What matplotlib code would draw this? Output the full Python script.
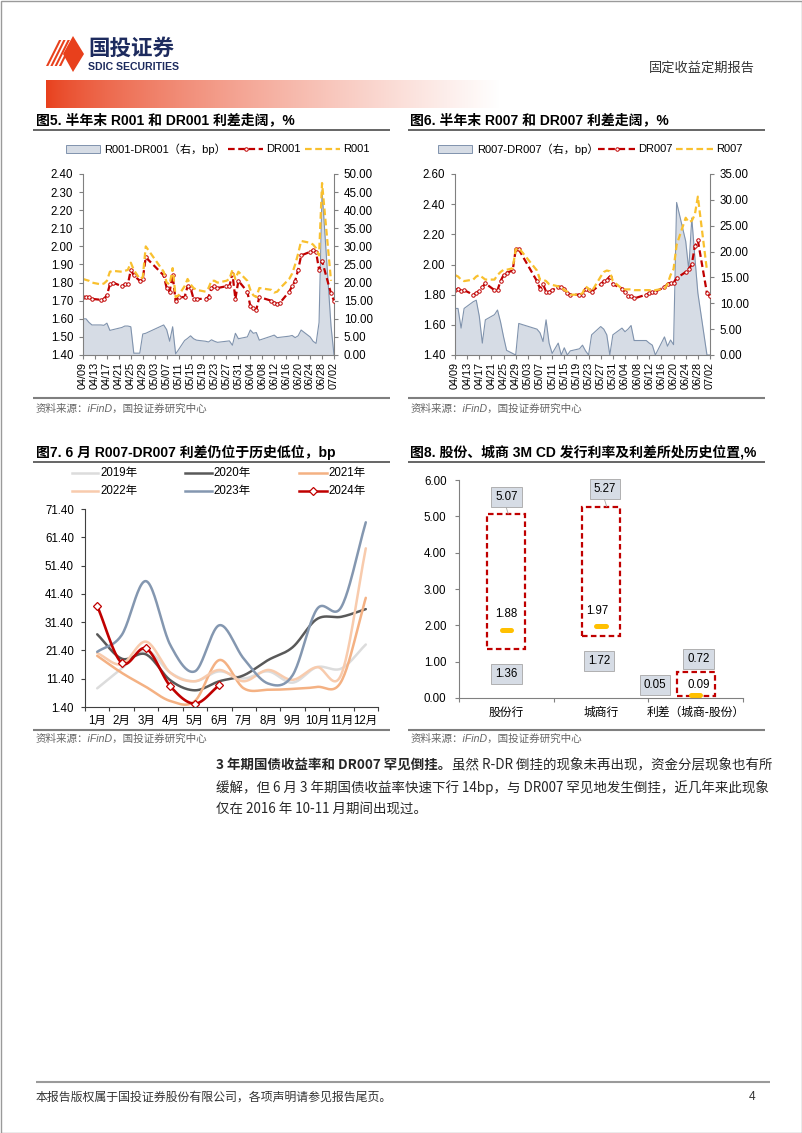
import numpy as np
import pandas as pd
import matplotlib
matplotlib.use("Agg")
import matplotlib.pyplot as plt
from matplotlib.patches import Rectangle, Polygon
from matplotlib.ticker import FormatStrFormatter

W, H = 802, 1133
FONTS = ["Liberation Sans", "Noto Sans CJK SC"]
CJK = ["Noto Sans CJK SC", "Liberation Sans"]
plt.rcParams.update({
    "font.family": FONTS,
    "font.size": 8,
    "axes.unicode_minus": False,
})

# ---------------- 图5 / 图6：交易日数据 ----------------
DATES = [
    "04/09", "04/10", "04/11", "04/12", "04/15", "04/16", "04/17", "04/18", "04/19",
    "04/22", "04/23", "04/24", "04/25", "04/26", "04/28", "04/29", "04/30",
    "05/06", "05/07", "05/08", "05/09", "05/10", "05/11", "05/13", "05/14", "05/15",
    "05/16", "05/17", "05/20", "05/21", "05/22", "05/23", "05/24", "05/27", "05/28",
    "05/29", "05/30", "05/31",
    "06/03", "06/04", "06/05", "06/06", "06/07", "06/11", "06/12", "06/13", "06/14",
    "06/17", "06/18", "06/19", "06/20", "06/21", "06/24", "06/25", "06/26", "06/27",
    "06/28",
    "07/01", "07/02",
]
XTICK_LABELS = ["04/09", "04/13", "04/17", "04/21", "04/25", "04/29", "05/03", "05/07",
                "05/11", "05/15", "05/19", "05/23", "05/27", "05/31", "06/04", "06/08",
                "06/12", "06/16", "06/20", "06/24", "06/28", "07/02"]

R001 = [1.82, 1.815, 1.81, 1.80, 1.79, 1.795, 1.81, 1.86, 1.865, 1.86, 1.865, 1.87, 1.91,
        1.87, 1.82, 1.83, 2.00,
        1.86, 1.80, 1.79, 1.88, 1.72, 1.73, 1.78, 1.82, 1.79, 1.77, 1.76, 1.75, 1.77, 1.81,
        1.81, 1.80, 1.81, 1.82, 1.87, 1.82, 1.86,
        1.81, 1.76, 1.73, 1.72, 1.77, 1.76, 1.745, 1.75, 1.77, 1.82, 1.85, 1.90, 1.96, 2.03,
        2.02, 2.01, 1.99, 1.95, 2.35,
        1.81, np.nan]
DR001 = [1.72, 1.72, 1.72, 1.71, 1.705, 1.71, 1.73, 1.79, 1.80, 1.78, 1.79, 1.79, 1.87,
         1.84, 1.81, 1.82, 1.94,
         1.84, 1.77, 1.75, 1.84, 1.70, 1.72, 1.72, 1.78, 1.77, 1.71, 1.71, 1.71, 1.72, 1.77,
         1.78, 1.77, 1.78, 1.78, 1.85, 1.71, 1.81,
         1.75, 1.67, 1.66, 1.65, 1.72, 1.70, 1.69, 1.68, 1.69, 1.75, 1.78, 1.81, 1.87, 1.95,
         1.97, 1.98, 1.97, 1.87, 1.92,
         1.74, 1.70]
SPREAD_1D = [10.0, 10.0, 9.0, 8.3, 8.3, 8.2, 8.8, 6.8, 7.0, 7.6, 8.0, 8.0, 7.8, 0.5, 0.5,
             5.8, 6.0,
             8.3, 7.0, 3.8, 7.8, 0.3, 1.5, 4.0, 4.6, 5.3, 4.5, 4.1, 3.8, 3.6, 4.2, 3.8, 3.5,
             3.8, 3.9, 2.7, 6.0, 4.5,
             5.0, 6.9, 6.0, 6.2, 4.1, 5.2, 5.5, 4.8, 4.9, 5.2, 5.4, 4.8, 5.3, 6.9, 5.0, 3.8,
             3.2, 9.0, 45.5,
             8.0, 0.0]

R007 = [1.93, 1.92, 1.90, 1.89, 1.90, 1.92, 1.93, 1.915, 1.90, 1.90, 1.93, 1.95, 1.965,
        1.965, 1.975, 2.10, 2.11,
        1.96, 1.90, 1.90, 1.89, 1.87, 1.865, 1.855, 1.85, 1.83, 1.82, 1.80, 1.80, 1.81, 1.855,
        1.84, 1.82, 1.92, 1.95, 1.96, 1.955, 1.89,
        1.84, 1.835, 1.835, 1.835, 1.83, 1.83, 1.83, 1.825, 1.83, 1.84, 1.87, 1.93, 1.97,
        2.13, 2.31, 2.28, 2.29, 2.33, 2.45,
        1.96, np.nan]
DR007 = [1.83, 1.84, 1.825, 1.83, 1.80, 1.81, 1.825, 1.85, 1.875, 1.83, 1.83, 1.89, 1.93,
         1.945, 1.96, 2.10, 2.10,
         1.89, 1.84, 1.87, 1.82, 1.82, 1.83, 1.85, 1.85, 1.84, 1.81, 1.80, 1.80, 1.80, 1.84,
         1.83, 1.82, 1.87, 1.89, 1.90, 1.92, 1.87,
         1.84, 1.82, 1.79, 1.79, 1.775, 1.80, 1.81, 1.815, 1.82, 1.85, 1.87, 1.88, 1.88,
         1.91, 1.95, 1.97, 2.00, 2.12, 2.16,
         1.81, 1.79]
SPREAD_7D = [9.0, 9.0, 5.2, 9.0, 10.3, 10.6, 7.5, 2.3, 6.8, 7.8, 8.7, 6.4, 3.5, 0.9, 0.3,
             0.0, 6.1,
             5.0, 4.3, 2.6, 6.8, 2.3, 0.3, 2.3, 0.0, 1.4, 0.0, 0.8, 1.2, 1.9, 0.8, 0.0, 3.9,
             5.5, 5.0, 3.9, 0.0, 3.9,
             5.2, 4.5, 5.0, 5.7, 2.8, 2.8, 2.3, 1.9, 0.0, 3.5, 1.7, 2.9, 2.0, 29.5, 22.0,
             16.5, 26.5, 19.0, 12.0,
             0.0, 0.0]

# ---------------- 图7：R007-DR007 月度利差（bp） ----------------
MONTHS = ["1月", "2月", "3月", "4月", "5月", "6月", "7月", "8月", "9月", "10月", "11月", "12月"]
YEARS = ["2019年", "2020年", "2021年", "2022年", "2023年", "2024年"]
Y2019 = [8.0, 15.0, 21.5, 13.5, 10.5, 14.0, 11.5, 14.0, 10.0, 15.5, 15.0, 23.5]
Y2020 = [27.1, 18.5, 20.0, 10.8, 7.3, 10.5, 12.6, 18.0, 22.5, 32.5, 33.3, 36.0]
Y2021 = [19.5, 13.5, 8.5, 3.5, 3.5, 18.0, 8.0, 7.5, 7.8, 8.5, 10.5, 40.0]
Y2022 = [20.5, 16.5, 24.5, 13.5, 10.5, 14.5, 10.5, 14.5, 11.0, 15.5, 13.0, 57.5]
Y2023 = [20.9, 26.8, 45.9, 23.2, 14.0, 30.3, 18.5, 9.7, 12.6, 36.0, 36.8, 66.7]
Y2024 = [37.1, 17.0, 22.1, 8.7, 2.6, 9.1]

# ---------------- 图8：3M CD 历史区间 ----------------
CD_CATS = ["股份行", "城商行", "利差（城商-股份）"]
CD_HIGH = [5.07, 5.27, 0.72]
CD_LOW = [1.36, 1.72, 0.05]
CD_NOW = [1.88, 1.97, 0.09]

RED = "#c00000"
GOLD = "#f9c02e"
AREA_FC = "#d6dce5"
AREA_EC = "#8093ad"
AXC = "#808080"


def day_offsets(labels):
    d = pd.to_datetime(["2024/" + s for s in labels], format="%Y/%m/%d")
    return (d - pd.Timestamp("2024-04-09")).days.to_numpy()


def smooth(xs, ys, n=24):
    """Catmull-Rom, parecido al suavizado de Excel."""
    p = np.column_stack([xs, ys]).astype(float)
    m = len(p)
    tang = np.zeros_like(p)
    tang[1:-1] = (p[2:] - p[:-2]) / 2
    tang[0] = p[1] - p[0]
    tang[-1] = p[-1] - p[-2]
    t = np.linspace(0, 1, n)[:, None]
    h00, h10 = 2 * t**3 - 3 * t**2 + 1, t**3 - 2 * t**2 + t
    h01, h11 = -2 * t**3 + 3 * t**2, t**3 - t**2
    segs = [h00 * p[i] + h10 * tang[i] + h01 * p[i + 1] + h11 * tang[i + 1]
            for i in range(m - 1)]
    out = np.vstack(segs)
    return out[:, 0], out[:, 1]


fig = plt.figure(figsize=(W / 100, H / 100), dpi=100)
pg = fig.add_axes([0, 0, 1, 1])
pg.axis("off")


def box(x0, y0, x1, y1):
    return fig.add_axes([x0 / W, 1 - y1 / H, (x1 - x0) / W, (y1 - y0) / H])


def hline(x0, x1, y, color="#595959", lw=1.3):
    pg.plot([x0, x1], [y, y], color=color, lw=lw, solid_capstyle="butt")


def style_axis(ax, spines):
    for s in ["top", "right", "left", "bottom"]:
        ax.spines[s].set_visible(s in spines)
        ax.spines[s].set_color(AXC)
        ax.spines[s].set_linewidth(0.8)
    ax.tick_params(direction="out", length=3, width=0.8, color=AXC,
                   labelsize=8.3, pad=2)


# ---------------- cabecera ----------------
pg.add_patch(Rectangle((0.5, 0.5), W - 1, H - 1, fill=False, ec="#9a9a9a", lw=1))
pg.add_patch(Polygon([(63, 54), (73, 36), (84, 54), (73, 72)], fc="#e8401c", ec="none"))
for k in range(4):
    x = 46 + k * 4.3
    pg.add_patch(Polygon([(x, 66), (x + 2.3, 66), (x + 2.3 + 13, 40), (x + 13, 40)],
                         fc="#e8401c", ec="none"))
pg.text(88, 48, "国投证券", fontsize=15.5, weight="bold", color="#1d2b5e",
        va="center", family=CJK)
pg.text(88, 67.5, "SDIC SECURITIES", fontsize=7.6, weight="bold", color="#1d2b5e",
        va="center", family=["Liberation Sans Narrow", "Liberation Sans"])
pg.text(755, 68, "固定收益定期报告", fontsize=9.5, ha="right", va="center", family=CJK,
        color="#333333")
t = np.linspace(0, 1, 300) ** 0.75
grad = np.ones((1, 300, 4))
grad[0, :, :3] = np.array([0.91, 0.25, 0.11]) * (1 - t[:, None]) + t[:, None]
pg.imshow(grad, extent=[46, 500, 108, 80], aspect="auto")
pg.set_xlim(0, W)
pg.set_ylim(H, 0)


# ---------------- 图5 / 图6 ----------------
def rate_chart(x0, x1, r, dr, sp, lo, hi, step, rhi):
    days = day_offsets(DATES)
    ax = box(x0, 174, x1, 355)
    ax2 = ax.twinx()
    ax.set_zorder(ax2.get_zorder() + 1)
    ax.patch.set_visible(False)
    ax2.fill_between(days, 0, sp, color=AREA_FC, lw=0)
    ax2.plot(days, sp, color=AREA_EC, lw=0.8)
    ax.plot(days, dr, color=RED, lw=1.6, ls=(0, (3, 1.6)), marker="o", ms=2.5,
            mfc="white", mec=RED, mew=0.7)
    ax.plot(days, r, color=GOLD, lw=1.6, ls=(0, (3, 1.6)))
    ax.set_xlim(0, 84)
    ax.set_ylim(lo, hi)
    ax.set_yticks(np.arange(lo, hi + 1e-9, step))
    ax.yaxis.set_major_formatter(FormatStrFormatter("%.2f"))
    ax.set_xticks(day_offsets(XTICK_LABELS))
    ax.set_xticklabels(XTICK_LABELS, rotation=90, fontsize=7.8)
    ax2.set_ylim(0, rhi)
    ax2.set_yticks(np.arange(0, rhi + 0.1, 5))
    ax2.yaxis.set_major_formatter(FormatStrFormatter("%.2f"))
    style_axis(ax, ["left", "bottom"])
    style_axis(ax2, ["right"])
    ax.tick_params(axis="y", pad=4)
    ax2.tick_params(axis="y", pad=4)
    ax.tick_params(axis="x", labelsize=7.8)
    return ax


rate_chart(83, 334, R001, DR001, SPREAD_1D, 1.40, 2.40, 0.10, 50)
rate_chart(455, 710, R007, DR007, SPREAD_7D, 1.40, 2.60, 0.20, 35)

pg.text(36, 120, "图5. 半年末 R001 和 DR001 利差走阔，%", fontsize=10, weight="bold", va="center")
pg.text(410, 120, "图6. 半年末 R007 和 DR007 利差走阔，%", fontsize=10, weight="bold", va="center")
hline(33, 390, 130)
hline(408, 765, 130)


def rate_legend(xp, xt1, xl1, xt2, xl2, xt3, names):
    pg.add_patch(Rectangle((xp, 145), 34, 8, fc=AREA_FC, ec=AREA_EC, lw=0.7))
    pg.text(xt1, 149, names[0], fontsize=8, va="center")
    pg.plot(xl1, [149, 149], color=RED, lw=1.6, ls=(0, (3, 1.6)))
    pg.plot([sum(xl1) / 2], [149], "o", ms=2.5, mfc="white", mec=RED, mew=0.7)
    pg.text(xt2, 149, names[1], fontsize=8, va="center")
    pg.plot(xl2, [149, 149], color=GOLD, lw=1.6, ls=(0, (3, 1.6)))
    pg.text(xt3, 149, names[2], fontsize=8, va="center")


rate_legend(66, 104, [228, 263], 266, [305, 340], 343,
            ["R001-DR001（右，bp）", "DR001", "R001"])
rate_legend(438, 477, [598, 635], 638, [676, 713], 716,
            ["R007-DR007（右，bp）", "DR007", "R007"])

SRC = "资料来源：iFinD，国投证券研究中心"
for xa, xb in [(33, 390), (408, 765)]:
    hline(xa, xb, 398, color="#7f7f7f", lw=1.5)
    hline(xa, xb, 730, color="#7f7f7f", lw=1.5)
    pg.text(xa + 3, 409, SRC, fontsize=7.6, color="#666666", va="center", style="italic")
    pg.text(xa + 3, 739, SRC, fontsize=7.6, color="#666666", va="center", style="italic")

# ---------------- 图7 ----------------
pg.text(36, 452, "图7. 6 月 R007-DR007 利差仍位于历史低位，bp", fontsize=10, weight="bold",
        va="center")
hline(33, 390, 462)
ax7 = box(85, 509, 378, 707)
series7 = [Y2019, Y2020, Y2021, Y2022, Y2023, Y2024]
colors7 = ["#dcdcdc", "#595959", "#f4b183", "#f8cbad", "#8497b0", RED]
xc = np.arange(12) + 0.5
for vals, col in zip(series7, colors7):
    sx, sy = smooth(xc[:len(vals)], vals)
    ax7.plot(sx, sy, color=col, lw=1.8 if col != RED else 1.9, solid_capstyle="round")
ax7.plot(xc[:len(Y2024)], Y2024, ls="none", marker="D", ms=4.2, mfc="white", mec=RED,
         mew=0.9)
ax7.set_xlim(0, 12)
ax7.set_ylim(1.4, 71.4)
ax7.set_yticks(np.arange(1.4, 71.41, 10))
ax7.yaxis.set_major_formatter(FormatStrFormatter("%.2f"))
ax7.set_xticks(np.arange(13))
ax7.set_xticklabels([])
ax7.set_xticks(xc, minor=True)
ax7.set_xticklabels(MONTHS, minor=True)
style_axis(ax7, ["left", "bottom"])
for s in ["left", "bottom"]:
    ax7.spines[s].set_color("#404040")
ax7.tick_params(color="#404040")
ax7.tick_params(axis="x", which="minor", length=0, pad=6, labelsize=8.3)
ax7.tick_params(axis="y", pad=5)

leg_x = [(72, 98, 100), (185, 212, 213), (299, 327, 328)]
for k, (name, col) in enumerate(zip(YEARS, colors7)):
    xa, xb, xt = leg_x[k % 3]
    yy = 473 if k < 3 else 491
    pg.plot([xa, xb], [yy, yy], color=col, lw=1.8)
    if col == RED:
        pg.plot([(xa + xb) / 2], [yy], "D", ms=4.2, mfc="white", mec=RED, mew=0.9)
    pg.text(xt, yy, name, fontsize=8.3, va="center")

# ---------------- 图8 ----------------
pg.text(410, 452, "图8. 股份、城商 3M CD 发行利率及利差所处历史位置,%", fontsize=10,
        weight="bold", va="center")
hline(408, 765, 462)
ax8 = box(459, 480, 743, 698)
lab = dict(fontsize=8.3, ha="center", va="center",
           bbox=dict(boxstyle="square,pad=0.35", fc=AREA_FC, ec="#a6a6a6", lw=0.6))
hi_pos = [(0.0, 0.47), (0.04, 0.47), (0.03, 0.36)]
lo_pos = [(0.0, -0.69), (-0.02, -0.71), (-0.43, 0.32)]
now_pos = [(0.0, 0.42), (-0.04, 0.42), (0.03, 0.28)]
for i, (hv, lv, nv) in enumerate(zip(CD_HIGH, CD_LOW, CD_NOW)):
    c = i + 0.5
    ax8.add_patch(Rectangle((c - 0.2, lv), 0.4, hv - lv, fill=False, ec=RED, lw=1.6,
                            ls=(0, (2.5, 1.5))))
    ax8.plot([c - 0.05, c + 0.05], [nv, nv], color="#ffc000", lw=3.6,
             solid_capstyle="round")
    ax8.text(c + hi_pos[i][0], hv + hi_pos[i][1], f"{hv:.2f}", **lab)
    ax8.text(c + lo_pos[i][0], lv + lo_pos[i][1], f"{lv:.2f}", **lab)
    ax8.text(c + now_pos[i][0], nv + now_pos[i][1], f"{nv:.2f}", fontsize=8.3,
             ha="center", va="center")
    if i < 2:
        ax8.plot([c + hi_pos[i][0] - 0.01, c + hi_pos[i][0] + 0.02],
                 [hv + 0.25, hv], color="#a6a6a6", lw=0.6)
ax8.set_xlim(0, 3)
ax8.set_ylim(0, 6)
ax8.set_yticks(np.arange(0, 6.01, 1))
ax8.yaxis.set_major_formatter(FormatStrFormatter("%.2f"))
ax8.set_xticks(np.arange(4))
ax8.set_xticklabels([])
ax8.set_xticks(np.arange(3) + 0.5, minor=True)
ax8.set_xticklabels(CD_CATS, minor=True, family=CJK)
style_axis(ax8, ["left", "bottom"])
ax8.tick_params(axis="x", which="minor", length=0, pad=6, labelsize=8.5)
ax8.tick_params(axis="y", pad=6)

# ---------------- texto ----------------
body = dict(fontsize=9.7, va="center", family=CJK, color="#262626")
t1 = pg.text(216, 765, "3 年期国债收益率和 DR007 罕见倒挂。", weight="bold", **body)
fig.canvas.draw()
bb = t1.get_window_extent()
pg.text(bb.x1 + 1, 765, "虽然 R-DR 倒挂的现象未再出现，资金分层现象也有所", **body)
pg.text(216, 788, "缓解，但 6 月 3 年期国债收益率快速下行 14bp，与 DR007 罕见地发生倒挂，近几年来此现象",
        **body)
pg.text(216, 810, "仅在 2016 年 10-11 月期间出现过。", **body)

# ---------------- pie ----------------
hline(36, 770, 1082, color="#9a9a9a", lw=1.5)
pg.text(36, 1097, "本报告版权属于国投证券股份有限公司，各项声明请参见报告尾页。",
        fontsize=8.6, va="center", family=CJK, color="#333333")
pg.text(755, 1097, "4", fontsize=8.6, va="center", ha="right", color="#333333")

fig.savefig("out.png", dpi=100)
